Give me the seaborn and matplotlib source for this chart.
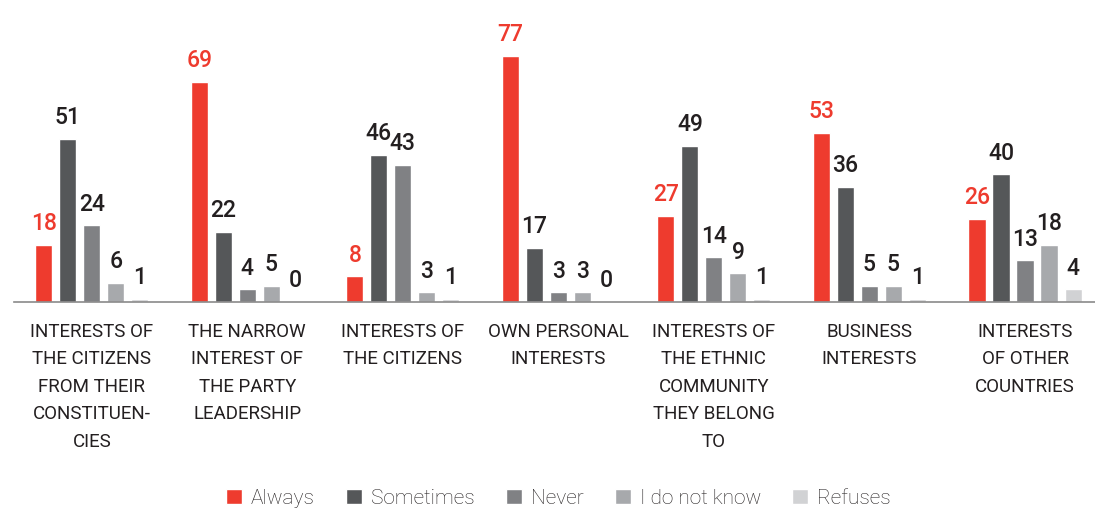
import pandas as pd
import matplotlib.pyplot as plt
import seaborn as sns

# --- Data ---

categories = [
    "INTERESTS OF\nTHE CITIZENS\nFROM THEIR\nCONSTITUEN-\nCIES",
    "THE NARROW\nINTEREST OF\nTHE PARTY\nLEADERSHIP",
    "INTERESTS OF\nTHE CITIZENS",
    "OWN PERSONAL\nINTERESTS",
    "INTERESTS OF\nTHE ETHNIC\nCOMMUNITY\nTHEY BELONG\nTO",
    "BUSINESS\nINTERESTS",
    "INTERESTS\nOF OTHER\nCOUNTRIES",
]
answers = ["Always", "Sometimes", "Never", "I do not know", "Refuses"]

always = [18, 69, 8, 77, 27, 53, 26]
sometimes = [51, 22, 46, 17, 49, 36, 40]
never = [24, 4, 43, 3, 14, 5, 13]
dont_know = [6, 5, 3, 3, 9, 5, 18]
refuses = [1, 0, 1, 0, 1, 1, 4]

colors = ["#EE3B2E", "#555759", "#808184", "#A7A9AC", "#D1D2D4"]

# --- Build long table ---

series = [always, sometimes, never, dont_know, refuses]
rows = []
for ans, vals in zip(answers, series):
    for cat, v in zip(categories, vals):
        rows.append({"category": cat, "answer": ans, "value": v})
df = pd.DataFrame(rows)

# --- Plot ---

sns.set_style("white")
plt.rcParams["font.family"] = ["Roboto", "DejaVu Sans"]

fig = plt.figure(figsize=(10.95, 5.14), dpi=100)
ax = fig.add_axes([14 / 1095, 1 - 302 / 514, 1 - 14 / 1095, 302 / 514])

sns.barplot(data=df, x="category", y="value", hue="answer",
            order=categories, hue_order=answers, palette=colors,
            width=0.772, gap=0.29, ax=ax, errorbar=None, saturation=1)

for i, cont in enumerate(ax.containers):
    ax.bar_label(cont, padding=7, fontsize=16.5, fontweight="medium",
                 color=colors[0] if i == 0 else "#231F20")

ax.set_ylim(0, 94.6)
ax.set_xlim(-0.5, 6.45)
ax.set_xlabel("")
ax.set_ylabel("")
ax.set_yticks([])
ax.tick_params(axis="x", length=0, pad=15)
ax.set_xticks(range(len(categories)))
ax.set_xticklabels(categories, fontsize=13.5, color="#231F20",
                   linespacing=1.68, va="top")

for side in ["top", "right", "left"]:
    ax.spines[side].set_visible(False)
ax.spines["bottom"].set_color("#8a8a8a")
ax.spines["bottom"].set_linewidth(1.2)

sns.move_legend(ax, "lower center", bbox_to_anchor=(0.51, -0.004),
                bbox_transform=fig.transFigure, ncol=5, frameon=False,
                title=None, fontsize=15, handlelength=0.75, handleheight=0.75,
                handletextpad=0.45, columnspacing=1.5, borderaxespad=0)
for t in ax.get_legend().get_texts():
    t.set_fontweight("light")
    t.set_color("#231F20")

fig.savefig("out.png", dpi=100)
